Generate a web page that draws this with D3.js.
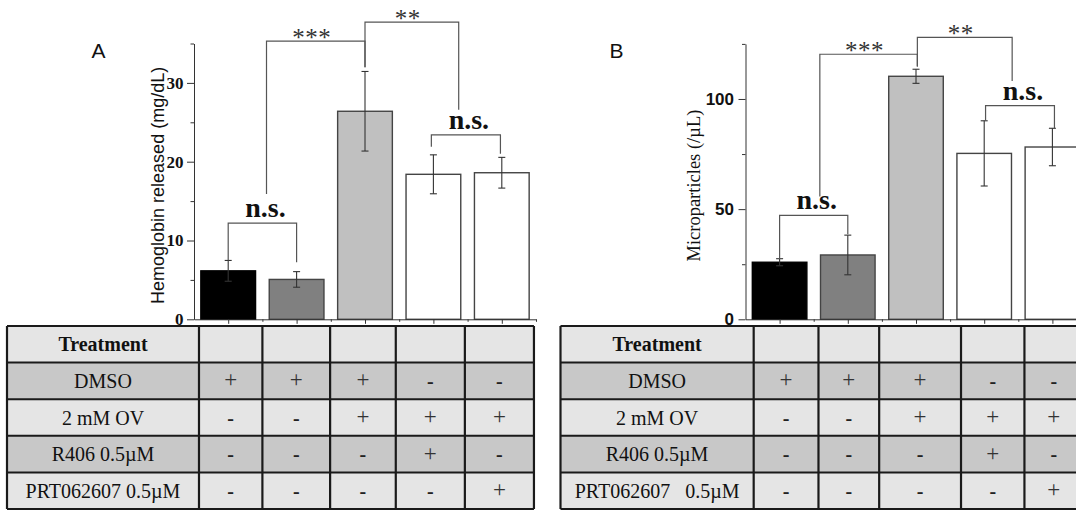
<!DOCTYPE html>
<html>
<head>
<meta charset="utf-8">
<script src="https://cdn.jsdelivr.net/npm/d3@7/dist/d3.min.js"></script>
<style>
  html, body { margin: 0; padding: 0; background: #fff; }
  svg { display: block; }
  text { white-space: pre; }
</style>
</head>
<body>
<svg id="chart" width="1076" height="510"></svg>
<script>
// ---------------- DATA ----------------
const categories = [1, 2, 3, 4, 5];
const barColors = ["#000000", "#808080", "#c0c0c0", "#ffffff", "#ffffff"];

// Panel A: Hemoglobin released (mg/dL)
const hemoValues = [6.15, 5.06, 26.4, 18.4, 18.6];
const hemoErrors = [1.32, 0.99, 5.05, 2.47, 1.95];
const hemoTicks = [0, 10, 20, 30];
const hemoMinorTicks = [5, 15, 25, 35];
const hemoBrackets = [
  { from: 1, to: 2, yFrom: 7.5, yTo: 7.25, top: 12.2, label: "n.s." },
  { from: 1.56, to: 3, yFrom: 15.9, yTo: 32.0, top: 35.3, label: "***" },
  { from: 3, to: 4.37, yFrom: 32.0, yTo: 26.6, top: 37.7, label: "**" },
  { from: 3.97, to: 4.98, yFrom: 21.9, yTo: 21.0, top: 23.4, label: "n.s." }
];

// Panel B: Microparticles (/µL)
const mpValues = [25.9, 29.2, 110.3, 75.3, 78.2];
const mpErrors = [1.6, 9.0, 3.2, 14.8, 8.5];
const mpTicks = [0, 50, 100];
const mpMinorTicks = [25, 75, 125];
const mpBrackets = [
  { from: 1, to: 2, yFrom: 27.5, yTo: 38.6, top: 47.2, label: "n.s." },
  { from: 1.59, to: 3.02, yFrom: 55.7, yTo: 114.7, top: 120.3, label: "***" },
  { from: 3.02, to: 4.41, yFrom: 114.7, yTo: 108.2, top: 128.0, label: "**" },
  { from: 4.02, to: 5.03, yFrom: 90.1, yTo: 86.7, top: 97.0, label: "n.s." }
];

// Treatment table
const treatmentHeader = "Treatment";
const treatmentRowsA = ["DMSO", "2 mM OV", "R406 0.5\u00b5M", "PRT062607 0.5\u00b5M"];
const treatmentRowsB = ["DMSO", "2 mM OV", "R406 0.5\u00b5M", "PRT062607   0.5\u00b5M"];
const treatmentDMSO = ["+", "+", "+", "-", "-"];
const treatmentOV   = ["-", "-", "+", "+", "+"];
const treatmentR406 = ["-", "-", "-", "+", "-"];
const treatmentPRT  = ["-", "-", "-", "-", "+"];
const treatmentMatrix = [treatmentDMSO, treatmentOV, treatmentR406, treatmentPRT];

// ---------------- LAYOUT ----------------
const svg = d3.select("#chart");
const SERIF = "'Liberation Serif', 'Times New Roman', serif";
const SANS = "'Liberation Sans', Arial, sans-serif";

const panels = [
  {
    letter: "A", letterX: 91.5, letterY: 58.3,
    xRange: [194, 536], yRange: [319.3, 43.5], yDomain: [0, 35],
    values: hemoValues, errors: hemoErrors, ticks: hemoTicks, minor: hemoMinorTicks,
    tickFont: SERIF, tickSize: 17, tickPad: 3.5,
    yLabel: "Hemoglobin released (mg/dL)", yLabelFont: SANS, yLabelSize: 18, yLabelX: 163.5,
    brackets: hemoBrackets,
    tableLeft: 7, tableCols: [0.573, 1.5, 2.49, 3.45, 4.46, 5.47], rows: treatmentRowsA
  },
  {
    letter: "B", letterX: 609.5, letterY: 58.3,
    xRange: [745.5, 1086.5], yRange: [319.3, 43.9], yDomain: [0, 125],
    values: mpValues, errors: mpErrors, ticks: mpTicks, minor: mpMinorTicks,
    tickFont: SANS, tickSize: 17, tickPad: 4.5,
    yLabel: "Microparticles (/\u00b5L)", yLabelFont: SERIF, yLabelSize: 18.5, yLabelX: 700,
    brackets: mpBrackets,
    tableLeft: 560.5, tableCols: [0.62, 1.57, 2.46, 3.66, 4.59, 5.45], rows: treatmentRowsB
  }
];

const tableTop = 326, rowH = 36.6;
const lightFill = "#e5e5e5", darkFill = "#c8c8c8";

panels.forEach(p => {
  const g = svg.append("g");
  const x = d3.scaleLinear().domain([0.5, 5.5]).range(p.xRange);
  const y = d3.scaleLinear().domain(p.yDomain).range(p.yRange);
  const step = x(2) - x(1);
  const bw = step * 0.8;

  // ---- table ----
  const tg = g.append("g");
  const edges = [p.tableLeft].concat(p.tableCols.map(v => x(v)));
  const allRows = [treatmentHeader].concat(p.rows);
  allRows.forEach((label, r) => {
    const y0 = tableTop + r * rowH;
    const fill = (r === 1 || r === 3) ? darkFill : lightFill;
    for (let c = 0; c < edges.length - 1; c++) {
      tg.append("rect")
        .attr("x", edges[c]).attr("y", y0)
        .attr("width", edges[c + 1] - edges[c]).attr("height", rowH)
        .attr("fill", fill);
    }
    const cy = y0 + rowH / 2 + 7;
    tg.append("text")
      .attr("x", (edges[0] + edges[1]) / 2).attr("y", cy)
      .attr("text-anchor", "middle")
      .attr("font-family", SERIF).attr("font-size", 20)
      .attr("font-weight", r === 0 ? "bold" : "normal")
      .attr("fill", "#111")
      .text(label);
    if (r > 0) {
      treatmentMatrix[r - 1].forEach((s, c) => {
        const plus = s === "+";
        tg.append("text")
          .attr("x", (edges[c + 1] + edges[c + 2]) / 2).attr("y", plus ? cy - 0.5 : cy)
          .attr("text-anchor", "middle")
          .attr("font-family", SERIF).attr("font-size", plus ? 23 : 20)
          .attr("font-weight", plus ? "normal" : "bold")
          .attr("fill", plus ? "#333" : "#222")
          .text(s);
      });
    }
  });
  const tBottom = tableTop + allRows.length * rowH;
  for (let r = 0; r <= allRows.length; r++) {
    tg.append("line")
      .attr("x1", edges[0]).attr("x2", edges[edges.length - 1])
      .attr("y1", tableTop + r * rowH).attr("y2", tableTop + r * rowH)
      .attr("stroke", "#1a1a1a").attr("stroke-width", 2);
  }
  edges.forEach(e => {
    tg.append("line")
      .attr("x1", e).attr("x2", e)
      .attr("y1", tableTop).attr("y2", tBottom)
      .attr("stroke", "#1a1a1a").attr("stroke-width", 2.2);
  });

  // ---- bars ----
  g.append("g").selectAll("rect").data(categories).join("rect")
    .attr("x", d => x(d) - bw / 2)
    .attr("y", (d, i) => y(p.values[i]))
    .attr("width", bw)
    .attr("height", (d, i) => y(0) - y(p.values[i]))
    .attr("fill", (d, i) => barColors[i])
    .attr("stroke", (d, i) => i === 0 ? "#000" : "#444")
    .attr("stroke-width", 1.4);

  // ---- error bars ----
  const eg = g.append("g").attr("stroke", "#333").attr("stroke-width", 1.1);
  categories.forEach((d, i) => {
    const cx = x(d), hi = y(p.values[i] + p.errors[i]), lo = y(p.values[i] - p.errors[i]);
    eg.append("line").attr("x1", cx).attr("x2", cx).attr("y1", hi).attr("y2", lo);
    eg.append("line").attr("x1", cx - 3.5).attr("x2", cx + 3.5).attr("y1", hi).attr("y2", hi);
    eg.append("line").attr("x1", cx - 3.5).attr("x2", cx + 3.5).attr("y1", lo).attr("y2", lo);
  });

  // ---- axes ----
  const yAxis = g.append("g").attr("transform", `translate(${p.xRange[0]},0)`)
    .call(d3.axisLeft(y).tickValues(p.ticks).tickSize(7).tickSizeOuter(0).tickPadding(p.tickPad));
  yAxis.selectAll("text")
    .attr("font-family", p.tickFont).attr("font-size", p.tickSize)
    .attr("font-weight", "bold").attr("fill", "#111");
  const yMinor = g.append("g").attr("transform", `translate(${p.xRange[0]},0)`)
    .call(d3.axisLeft(y).tickValues(p.minor).tickSize(3.5).tickSizeOuter(0).tickFormat(""));
  yMinor.select(".domain").remove();
  [yAxis, yMinor].forEach(a => {
    a.selectAll("line").attr("stroke", "#333");
    a.selectAll(".domain").attr("stroke", "#333");
  });

  const xAxis = g.append("g").attr("transform", `translate(0,${p.yRange[0]})`)
    .call(d3.axisBottom(x).tickValues(categories).tickSize(4.5).tickSizeOuter(0).tickFormat(""));
  const xMinor = g.append("g").attr("transform", `translate(0,${p.yRange[0]})`)
    .call(d3.axisBottom(x).tickValues(categories.map(c => c + 0.5)).tickSize(2.5).tickSizeOuter(0).tickFormat(""));
  xMinor.select(".domain").remove();
  [xAxis, xMinor].forEach(a => {
    a.selectAll("line").attr("stroke", "#333");
    a.selectAll(".domain").attr("stroke", "#333");
  });

  // ---- y label ----
  g.append("text")
    .attr("transform", `translate(${p.yLabelX},${(p.yRange[0] + p.yRange[1]) / 2 + 4}) rotate(-90)`)
    .attr("text-anchor", "middle")
    .attr("font-family", p.yLabelFont).attr("font-size", p.yLabelSize)
    .attr("fill", "#111")
    .text(p.yLabel);

  // ---- panel letter ----
  g.append("text")
    .attr("x", p.letterX).attr("y", p.letterY)
    .attr("font-family", SANS).attr("font-size", 21)
    .attr("fill", "#111")
    .text(p.letter);

  // ---- significance brackets ----
  const bg = g.append("g");
  p.brackets.forEach(b => {
    const pts = [[x(b.from), y(b.yFrom)], [x(b.from), y(b.top)], [x(b.to), y(b.top)], [x(b.to), y(b.yTo)]];
    bg.append("path")
      .attr("d", d3.line()(pts))
      .attr("fill", "none").attr("stroke", "#555").attr("stroke-width", 1.2);
    const mx = (x(b.from) + x(b.to)) / 2;
    if (b.label === "n.s.") {
      bg.append("text")
        .attr("x", mx + 3).attr("y", y(b.top) - 6)
        .attr("text-anchor", "middle")
        .attr("font-family", SERIF).attr("font-size", 28).attr("font-weight", "bold")
        .attr("fill", "#111")
        .text(b.label);
    } else {
      bg.append("text")
        .attr("x", mx - 4).attr("y", y(b.top) + 5)
        .attr("text-anchor", "middle")
        .attr("font-family", SERIF).attr("font-size", 25)
        .attr("letter-spacing", 0.5)
        .attr("fill", "#333")
        .text(b.label);
    }
  });
});
</script>
</body>
</html>
